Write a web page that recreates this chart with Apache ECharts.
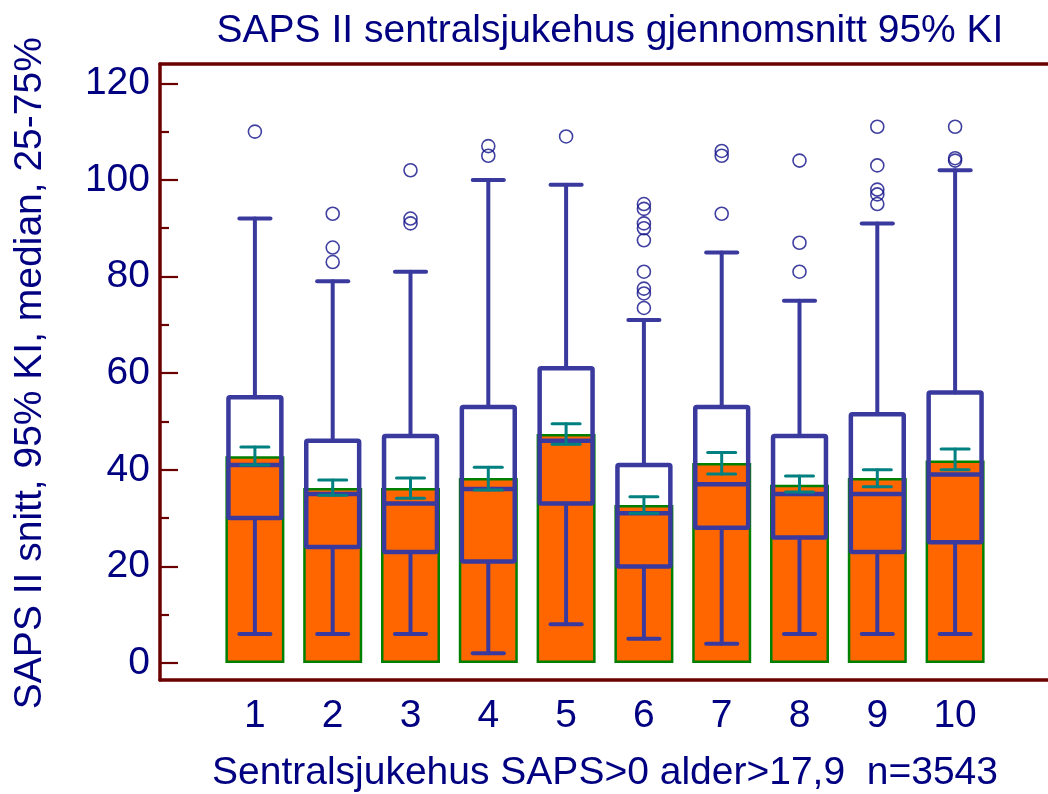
<!DOCTYPE html>
<html>
<head>
<meta charset="utf-8">
<script src="https://cdn.jsdelivr.net/npm/echarts@6/dist/echarts.min.js"></script>
<style>
  html, body { margin: 0; padding: 0; background: #ffffff; }
  #chart { width: 1048px; height: 794px; }
</style>
</head>
<body>
<div id="chart"></div>
<script>
// Hospitals 1..10
const categories = ['1', '2', '3', '4', '5', '6', '7', '8', '9', '10'];

// Mean SAPS II (bar height) with 95% confidence interval
const means  = [42.8, 36.2, 36.2, 38.3, 47.4, 32.7, 41.4, 36.9, 38.3, 41.9];
const ciLow  = [41.0, 34.7, 34.1, 35.8, 45.3, 31.0, 39.1, 35.4, 36.5, 40.0];
const ciHigh = [44.7, 37.9, 38.3, 40.5, 49.5, 34.4, 43.6, 38.7, 40.0, 44.3];

// Box plot: whisker ends, quartiles and median
const whiskerLow  = [6, 6, 6, 2, 8, 5, 4, 6, 6, 6];
const quartile1   = [30, 24, 23, 21, 33, 20, 28, 26, 23, 25];
const medians     = [41, 35, 33, 36, 46, 31, 37, 35, 35, 39];
const quartile3   = [55, 46, 47, 53, 61, 41, 53, 47, 51.5, 56];
const whiskerHigh = [92, 79, 81, 100, 99, 71, 85, 75, 91, 102];

// Outlying observations per hospital
const outliers = [
  [110],
  [93, 86, 83],
  [102, 92, 91],
  [107, 105],
  [109],
  [95, 94, 91, 90, 87.5, 81, 77.5, 76.5, 73.5],
  [106, 105, 93],
  [104, 87, 81],
  [111, 103, 98, 97, 95],
  [111, 104.5, 104]
];

const yTicks = { min: 0, max: 120, step: 20 };

const FONT = '"Liberation Sans", Arial, sans-serif';
const FONT_SIZE = 39;
const TEXT = '#000080';
const FRAME = '#6b0000';
const BOX = '#3a3a9e';
const BAR = '#ff6600';
const BAR_EDGE = '#008000';
const CI = '#008080';
const DOT = '#101088';

const boxData = categories.map((c, i) =>
  [i, whiskerLow[i], quartile1[i], medians[i], quartile3[i], whiskerHigh[i]]);
const ciData = categories.map((c, i) => [i, ciLow[i], ciHigh[i]]);
const outlierData = [];
outliers.forEach((list, i) => list.forEach(v => outlierData.push([i, v])));

function renderBox(params, api) {
  const i = api.value(0);
  const lo = api.coord([i, api.value(1)]);
  const q1 = api.coord([i, api.value(2)]);
  const md = api.coord([i, api.value(3)]);
  const q3 = api.coord([i, api.value(4)]);
  const hi = api.coord([i, api.value(5)]);
  const band = api.size([1, 0])[0];
  const half = band * 0.34;
  const cap = band * 0.2;
  const x = lo[0];
  const line = { stroke: BOX, lineWidth: 4, lineCap: 'round' };
  return {
    type: 'group',
    children: [
      { type: 'line', shape: { x1: x, y1: q1[1], x2: x, y2: lo[1] }, style: line },
      { type: 'line', shape: { x1: x - cap, y1: lo[1], x2: x + cap, y2: lo[1] }, style: line },
      { type: 'line', shape: { x1: x, y1: q3[1], x2: x, y2: hi[1] }, style: line },
      { type: 'line', shape: { x1: x - cap, y1: hi[1], x2: x + cap, y2: hi[1] }, style: line },
      { type: 'rect', shape: { x: x - half, y: q3[1], width: half * 2, height: q1[1] - q3[1], r: 1.5 },
        style: { fill: 'none', stroke: BOX, lineWidth: 4.5 } },
      { type: 'line', shape: { x1: x - half, y1: md[1], x2: x + half, y2: md[1] },
        style: { stroke: BOX, lineWidth: 4.5 } }
    ]
  };
}

function renderCI(params, api) {
  const i = api.value(0);
  const lo = api.coord([i, api.value(1)]);
  const hi = api.coord([i, api.value(2)]);
  const band = api.size([1, 0])[0];
  const cap = band * 0.18;
  const x = lo[0];
  const st = { stroke: CI, lineWidth: 3, lineCap: 'round' };
  return {
    type: 'group',
    children: [
      { type: 'line', shape: { x1: x, y1: lo[1], x2: x, y2: hi[1] }, style: st },
      { type: 'line', shape: { x1: x - cap, y1: lo[1], x2: x + cap, y2: lo[1] }, style: st },
      { type: 'line', shape: { x1: x - cap, y1: hi[1], x2: x + cap, y2: hi[1] }, style: st }
    ]
  };
}

const chart = echarts.init(document.getElementById('chart'), null, { renderer: 'canvas' });

const frameAxisX = (position) => ({
  gridIndex: 0, type: 'value', min: 0, max: 1, position: position,
  axisLine: { show: true, lineStyle: { color: FRAME, width: 3.5 } },
  axisTick: { show: false }, axisLabel: { show: false }, splitLine: { show: false }
});

chart.setOption({
  animation: false,
  backgroundColor: '#ffffff',
  textStyle: { fontFamily: FONT },
  title: {
    text: 'SAPS II sentralsjukehus gjennomsnitt 95% KI',
    left: 605, top: 7, textAlign: 'center',
    textStyle: { fontFamily: FONT, fontSize: FONT_SIZE, fontWeight: 'normal', color: TEXT }
  },
  grid: [
    { left: 160, right: 0, top: 64, bottom: 114, outerBoundsMode: 'none' },
    { left: 216, right: 54, top: 83.3, bottom: 131, outerBoundsMode: 'none' }
  ],
  xAxis: [
    frameAxisX('bottom'),
    frameAxisX('top'),
    {
      gridIndex: 1, type: 'category', data: categories,
      axisLine: { show: false }, axisTick: { show: false },
      axisLabel: { fontFamily: FONT, fontSize: FONT_SIZE, color: TEXT, margin: 34 },
      splitLine: { show: false },
      name: 'Sentralsjukehus SAPS>0 alder>17,9  n=3543',
      nameLocation: 'middle', nameGap: 91,
      nameTextStyle: { fontFamily: FONT, fontSize: FONT_SIZE, color: TEXT }
    }
  ],
  yAxis: [
    {
      gridIndex: 0, type: 'value', min: 0, max: 1,
      axisLine: { show: true, lineStyle: { color: FRAME, width: 3.5 } },
      axisTick: { show: false }, axisLabel: { show: false }, splitLine: { show: false }
    },
    {
      gridIndex: 1, type: 'value', min: yTicks.min, max: yTicks.max, interval: yTicks.step,
      offset: 56,
      axisLine: { show: false },
      axisTick: { show: true, inside: true, length: 18, lineStyle: { color: FRAME, width: 2.2 } },
      minorTick: { show: true, splitNumber: 2, length: 9, lineStyle: { color: FRAME, width: 2.2 } },
      axisLabel: { fontFamily: FONT, fontSize: FONT_SIZE, color: TEXT, margin: 10 },
      splitLine: { show: false }, minorSplitLine: { show: false },
      name: 'SAPS II snitt, 95% KI, median, 25-75%',
      nameLocation: 'middle', nameGap: 110,
      nameTextStyle: { fontFamily: FONT, fontSize: FONT_SIZE, color: TEXT }
    }
  ],
  series: [
    {
      type: 'bar', xAxisIndex: 2, yAxisIndex: 1, data: means, barWidth: 59,
      itemStyle: { color: BAR, borderColor: BAR_EDGE, borderWidth: 2.5 },
      z: 2
    },
    {
      type: 'custom', xAxisIndex: 2, yAxisIndex: 1, data: boxData,
      renderItem: renderBox, z: 3
    },
    {
      type: 'custom', xAxisIndex: 2, yAxisIndex: 1, data: ciData,
      renderItem: renderCI, z: 4
    },
    {
      type: 'scatter', xAxisIndex: 2, yAxisIndex: 1, data: outlierData,
      symbol: 'circle', symbolSize: 13,
      itemStyle: { color: 'rgba(255,255,255,0)', borderColor: DOT, borderWidth: 1.6 },
      z: 5
    }
  ]
});
</script>
</body>
</html>
